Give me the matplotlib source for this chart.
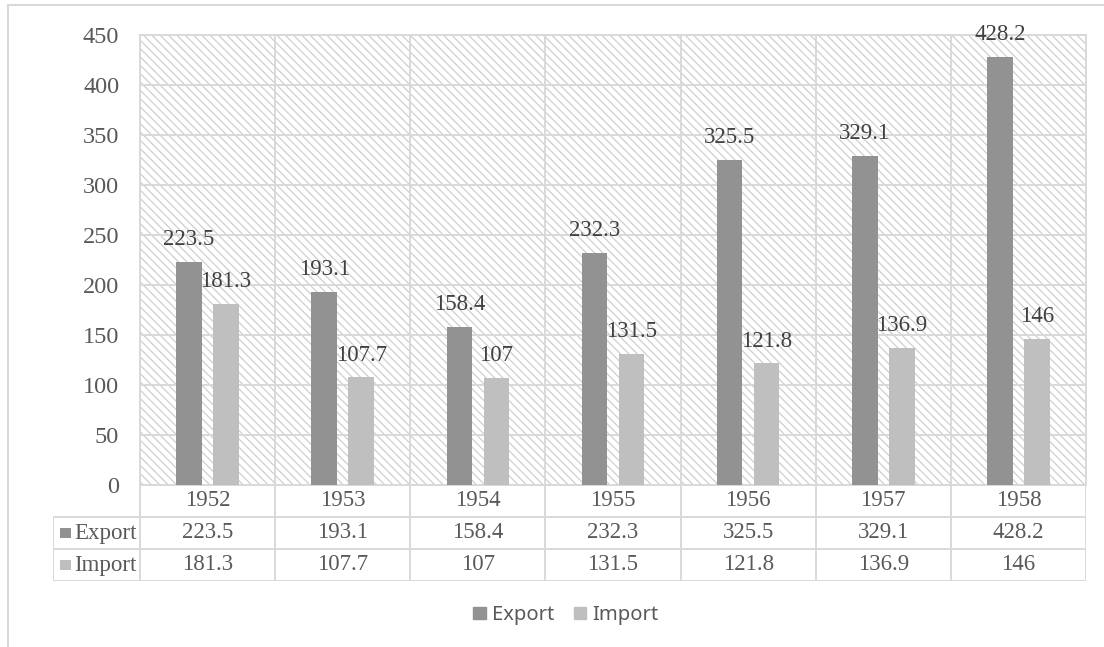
import matplotlib.pyplot as plt
from matplotlib.patches import Rectangle, Patch
import numpy as np

years = ['1952', '1953', '1954', '1955', '1956', '1957', '1958']
export = [223.5, 193.1, 158.4, 232.3, 325.5, 329.1, 428.2]
imports = [181.3, 107.7, 107, 131.5, 121.8, 136.9, 146]
series = ['Export', 'Import']

c_exp = '#929292'
c_imp = '#bfbfbf'
grid_c = '#d9d9d9'
txt_c = '#595959'
serif = 'Liberation Serif'

plt.rcParams['hatch.linewidth'] = 0.9

W, H = 1104, 647
fig = plt.figure(figsize=(W / 100, H / 100), dpi=100)

# outer frame of the chart area (runs off the right/bottom edge)
fig.patches.append(Rectangle((8 / W, -0.2), 1.2, 1 - 5 / H + 0.2, transform=fig.transFigure,
                             fill=False, ec=grid_c, lw=1.5))

ax = fig.add_axes([140 / W, (H - 485) / H, (1086 - 140) / W, (485 - 35) / H])
x = np.arange(len(years))
off, bw = 0.137, 0.19

# hatched plot background
ax.add_patch(Rectangle((0, 0), 1, 1, transform=ax.transAxes, facecolor='white',
                       hatch='\\\\\\\\', edgecolor='#cfcfcf', lw=0, zorder=0))

b1 = ax.bar(x - off, export, bw, color=c_exp, zorder=3)
b2 = ax.bar(x + off, imports, bw, color=c_imp, zorder=3)

for bars, vals in ((b1, export), (b2, imports)):
    for r, v in zip(bars, vals):
        ax.annotate(f'{v:g}', (r.get_x() + r.get_width() / 2, v), xytext=(0, 12),
                    textcoords='offset points', ha='center', va='baseline',
                    fontsize=16.5, family=serif, color='#404040', zorder=5,
                    annotation_clip=False)

ax.set_xlim(-0.5, len(years) - 0.5)
ax.set_ylim(0, 450)
ax.set_yticks(np.arange(0, 451, 50))
ax.set_xticks([])
ax.set_xticks(np.arange(-0.5, len(years)), minor=True)
ax.tick_params(axis='x', which='both', length=0, labelbottom=False)
ax.tick_params(axis='y', length=0, pad=15, labelsize=17.5, labelcolor=txt_c)
for lab in ax.get_yticklabels():
    lab.set_family(serif)
ax.grid(axis='y', color=grid_c, lw=1.4, zorder=1)
ax.grid(axis='x', which='minor', color=grid_c, lw=1.4, zorder=1)
for s in ax.spines.values():
    s.set_color(grid_c)
    s.set_linewidth(1.4)

# data table under the plot
px = 135.14
left = -0.5 - 87 / px
tab = fig.add_axes([53 / W, (H - 581) / H, (1086 - 53) / W, (581 - 485) / H])
tab.set_xlim(left, len(years) - 0.5)
tab.set_ylim(3, 0)
tab.axis('off')
lk = dict(color=grid_c, lw=1.4, solid_capstyle='butt')
tab.plot([-0.5, len(years) - 0.5], [0, 0], **lk)
for yy in (1, 2, 3):
    tab.plot([left, len(years) - 0.5], [yy, yy], **lk)
tab.plot([left, left], [1, 3], **lk)
for xx in np.arange(-0.5, len(years)):
    tab.plot([xx, xx], [0, 3], **lk)

tk = dict(ha='center', va='center', fontsize=16.5, family=serif, color=txt_c)
for i, yr in enumerate(years):
    tab.text(i, 0.5, yr, **tk)
    tab.text(i, 1.5, f'{export[i]:g}', **tk)
    tab.text(i, 2.5, f'{imports[i]:g}', **tk)

sq = 11 / px
for row, (name, col) in enumerate(zip(series, [c_exp, c_imp]), start=1):
    tab.add_patch(Rectangle((left + 7 / px, row + 0.5 - 0.17), sq, 0.34, color=col, lw=0))
    tab.text(left + 21 / px, row + 0.5, name, ha='left', va='center', fontsize=16.5,
             family=serif, color=txt_c)

handles = [Patch(color=c_exp, label=series[0]), Patch(color=c_imp, label=series[1])]
fig.legend(handles=handles, loc='center', bbox_to_anchor=(566 / W, 1 - 615 / H), ncol=2,
           frameon=False, handlelength=0.6, handleheight=0.6, handletextpad=0.3,
           columnspacing=1.0, prop={'family': 'Noto Sans', 'size': 14.5}, labelcolor=txt_c)

fig.savefig('out.png', dpi=100)
